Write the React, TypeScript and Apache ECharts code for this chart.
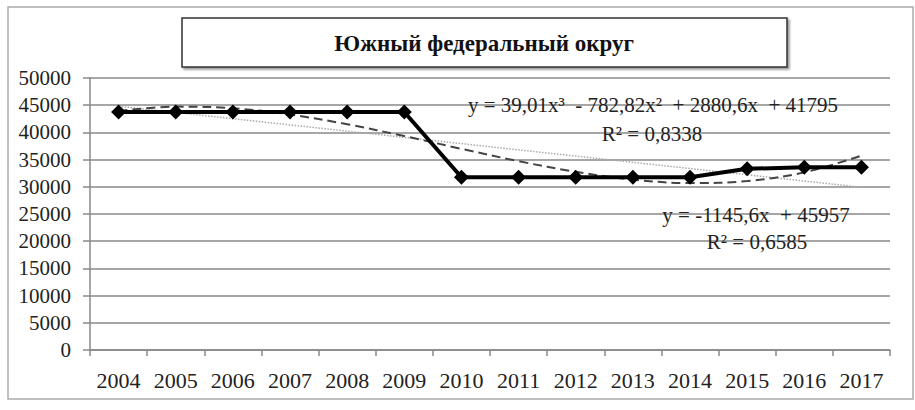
import React, { useEffect, useRef } from "react";
import * as echarts from "echarts";

const years = ["2004", "2005", "2006", "2007", "2008", "2009", "2010", "2011", "2012", "2013", "2014", "2015", "2016", "2017"];
const values = [43750, 43750, 43750, 43750, 43750, 43750, 31750, 31750, 31750, 31750, 31750, 33300, 33600, 33600];
const polyTrend = [43930, 44740, 44440, 43290, 41500, 39320, 36980, 34710, 32750, 31330, 30680, 31050, 32650, 35730];
const linearTrend = [44810, 43670, 42520, 41380, 40230, 39080, 37940, 36790, 35650, 34500, 33360, 32210, 31060, 29920];
const title = "Южный федеральный округ";
const polyEq = "y = 39,01x³  - 782,82x²  + 2880,6x  + 41795";
const polyR2 = "R² = 0,8338";
const linEq = "y = -1145,6x  + 45957";
const linR2 = "R² = 0,6585";

const FONT = "'Liberation Serif', 'Times New Roman', serif";

export default function App() {
  const ref = useRef<HTMLDivElement>(null);
  useEffect(() => {
    const chart = echarts.init(ref.current!, null, { renderer: "svg" });
    chart.setOption({
      animation: false,
      backgroundColor: "#fff",
      grid: { left: 90, right: 25, top: 78, bottom: 60 },
      xAxis: {
        type: "category",
        data: years,
        boundaryGap: true,
        axisLine: { lineStyle: { color: "#888", width: 1.5 } },
        axisTick: { show: true, length: 6, lineStyle: { color: "#888", width: 1.5 } },
        axisLabel: { color: "#222", fontSize: 22, fontFamily: FONT, margin: 19, interval: 0 },
      },
      yAxis: {
        type: "value",
        min: 0,
        max: 50000,
        interval: 5000,
        axisLine: { show: true, lineStyle: { color: "#888", width: 1.5 } },
        axisTick: { show: true, length: 7, lineStyle: { color: "#888", width: 1.5 } },
        axisLabel: { color: "#222", fontSize: 21, fontFamily: FONT, margin: 19, formatter: (v: number) => String(v) },
        splitLine: { lineStyle: { color: "#888", width: 1.5 } },
      },
      series: [
        {
          type: "line",
          data: linearTrend,
          symbol: "none",
          lineStyle: { color: "#aaa", width: 1.5, type: "dotted" },
          z: 2,
        },
        {
          type: "line",
          data: polyTrend,
          symbol: "none",
          smooth: 0.35,
          lineStyle: { color: "#444", width: 2, type: [9, 5] },
          z: 3,
        },
        {
          type: "line",
          data: values,
          symbol: "diamond",
          symbolSize: [15, 15],
          itemStyle: { color: "#000" },
          lineStyle: { color: "#000", width: 4 },
          z: 4,
        },
      ],
      graphic: [
        {
          type: "rect",
          shape: { x: 8, y: 7, width: 905, height: 392 },
          style: { fill: "none", stroke: "#aaa", lineWidth: 1.5 },
          silent: true,
        },
        {
          type: "rect",
          shape: { x: 182, y: 18, width: 605, height: 49 },
          style: { fill: "#fff", stroke: "#333", lineWidth: 1.5, shadowColor: "rgba(0,0,0,0.4)", shadowOffsetX: 2, shadowOffsetY: 2, shadowBlur: 2 },
          silent: true,
        },
        {
          type: "text",
          x: 484,
          y: 43,
          style: { text: title, fontFamily: FONT, fontWeight: "bold", fontSize: 23, fill: "#111", align: "center", verticalAlign: "middle" },
        },
        {
          type: "text",
          x: 653,
          y: 105,
          z: 10,
          style: { text: polyEq, fontFamily: FONT, fontSize: 21, fill: "#222", align: "center", verticalAlign: "middle" },
        },
        {
          type: "text",
          x: 652,
          y: 134,
          z: 10,
          style: { text: polyR2, fontFamily: FONT, fontSize: 21, fill: "#222", align: "center", verticalAlign: "middle" },
        },
        {
          type: "text",
          x: 756,
          y: 215,
          z: 10,
          style: { text: linEq, fontFamily: FONT, fontSize: 21, fill: "#222", align: "center", verticalAlign: "middle" },
        },
        {
          type: "text",
          x: 757,
          y: 242,
          z: 10,
          style: { text: linR2, fontFamily: FONT, fontSize: 21, fill: "#222", align: "center", verticalAlign: "middle" },
        },
      ],
    });
    return () => chart.dispose();
  }, []);
  return <div ref={ref} style={{ position: "fixed", left: 0, top: 0, width: 915, height: 410 }} />;
}
